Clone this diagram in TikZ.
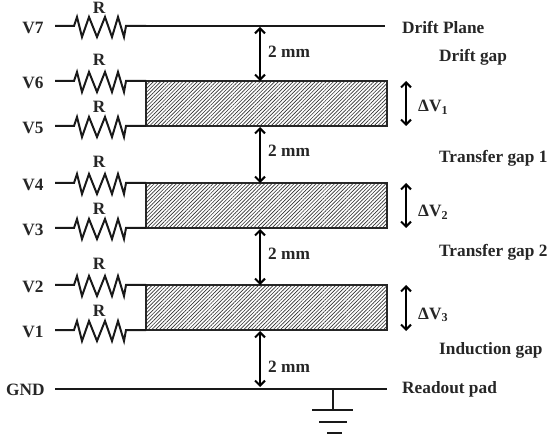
\documentclass[tikz,border=0pt]{standalone}
\usepackage{fontspec}
\setmainfont{Liberation Serif}
\usetikzlibrary{arrows.meta,patterns.meta}
\tikzset{
  x=1pt,y=-1pt,
  wire/.style={line width=2pt,black!90},
  res/.style={line width=2pt,black!90,line join=miter},
  dbl/.style={line width=2pt,black,{Straight Barb[length=5pt,width=10pt,line width=2pt]}-{Straight Barb[length=5pt,width=10pt,line width=2pt]}},
  lab/.style={font=\bfseries\fontsize{17.3}{19}\selectfont,text=black!85,inner sep=0pt},
  plate/.style={draw=black!85,line width=2pt,outer sep=0pt,pattern={Lines[angle=45,distance=2.6pt,line width=0.65pt]},pattern color=black!80},
}
\newcommand{\resistor}[4]{%
  \coordinate (#1a) at (55,#2);
  \coordinate (#1b) at (146,#2);
  \node[lab] (#1l) at (33,#2+2) {#3};
  \node[lab] (#1r) at (99,#4) {R};
  \draw[res] (#1a) -- (74,#2) -- (77,#2-9) -- (82,#2+11) -- (89,#2-9) -- (97,#2+11) -- (105,#2-9) -- (112,#2+11) -- (118,#2-9) -- (124,#2+11) -- (126,#2) -- (#1b);
}
\begin{document}
\begin{tikzpicture}
\useasboundingbox (0,0) rectangle (547,441);
\fill[white] (0,0) rectangle (547,441);
% plates
\node[plate,minimum width=241pt,minimum height=45pt,anchor=north west,inner sep=0pt] (g1) at (146,81) {};
\node[plate,minimum width=241pt,minimum height=45pt,anchor=north west,inner sep=0pt] (g2) at (146,183) {};
\node[plate,minimum width=241pt,minimum height=45pt,anchor=north west,inner sep=0pt] (g3) at (146,285) {};
% resistors
\resistor{a}{26}{V7}{7.5}
\resistor{b}{81}{V6}{60}
\resistor{c}{126}{V5}{107}
\resistor{d}{183}{V4}{162}
\resistor{e}{228}{V3}{209}
\resistor{f}{285}{V2}{264}
\resistor{g}{330}{V1}{311}
% planes
\coordinate (dr) at (385,26);
\draw[wire] (ab) -- (dr);
\node[lab,anchor=west] (gnd) at (6,390) {GND};
\coordinate (gl) at (55,388.5);
\coordinate (gr) at (387,388.5);
\draw[wire] (gl) -- (gr);
% gaps
\coordinate (t0) at (260,27);
\coordinate (t1) at (260,81);
\coordinate (t2) at (260,127);
\coordinate (t3) at (260,183);
\coordinate (t4) at (260,229);
\coordinate (t5) at (260,285);
\coordinate (t6) at (260,331);
\coordinate (t7) at (260,387);
\draw[dbl] (t0) -- (t1);
\draw[dbl] (t2) -- (t3);
\draw[dbl] (t4) -- (t5);
\draw[dbl] (t6) -- (t7);
\node[lab,anchor=west] (m1) at (268,52) {2 mm};
\node[lab,anchor=west] (m2) at (268,151) {2 mm};
\node[lab,anchor=west] (m3) at (268,254) {2 mm};
\node[lab,anchor=west] (m4) at (268,367) {2 mm};
% delta V
\coordinate (v1a) at (406,81);\coordinate (v1b) at (406,126);
\coordinate (v2a) at (406,183);\coordinate (v2b) at (406,228);
\coordinate (v3a) at (406,285);\coordinate (v3b) at (406,331);
\draw[dbl] (v1a) -- (v1b);
\draw[dbl] (v2a) -- (v2b);
\draw[dbl] (v3a) -- (v3b);
\node[lab,anchor=west] (d1) at (418,107) {ΔV\textsubscript{1}};
\node[lab,anchor=west] (d2) at (418,212) {ΔV\textsubscript{2}};
\node[lab,anchor=west] (d3) at (418,315) {ΔV\textsubscript{3}};
% right labels
\node[lab,anchor=west] (n1) at (402,27) {Drift Plane};
\node[lab,anchor=west] (n2) at (439,57) {Drift gap};
\node[lab,anchor=west] (n3) at (439,158) {Transfer gap 1};
\node[lab,anchor=west] (n4) at (439,252) {Transfer gap 2};
\node[lab,anchor=west] (n5) at (439,350) {Induction gap};
\node[lab,anchor=west] (n6) at (402,389) {Readout pad};
% ground
\coordinate (s0) at (333,388.5);
\coordinate (s1) at (333,410);
\draw[wire] (s0) -- (s1);
\coordinate (b1) at (312,410);\coordinate (b2) at (353,410);
\coordinate (b3) at (319,422);\coordinate (b4) at (347,422);
\coordinate (b5) at (327,433);\coordinate (b6) at (342,433);
\draw[wire] (b1) -- (b2);
\draw[wire] (b3) -- (b4);
\draw[wire] (b5) -- (b6);
\end{tikzpicture}
\end{document}
